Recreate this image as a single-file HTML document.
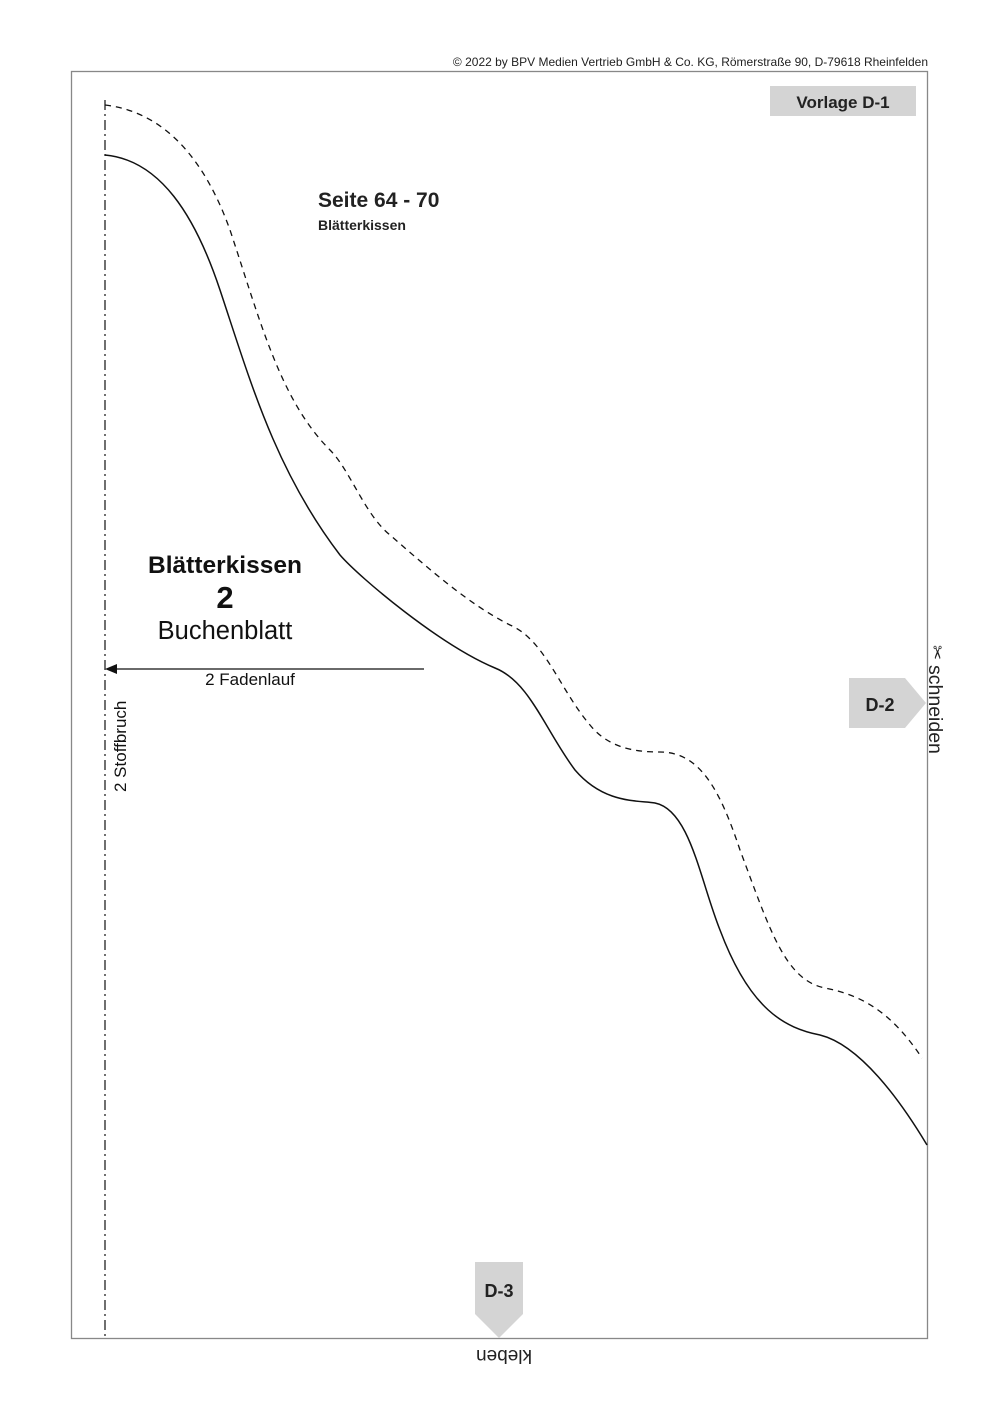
<!DOCTYPE html>
<html><head><meta charset="utf-8"><style>
body{margin:0;background:#fff;}
svg{display:block;font-family:"Liberation Sans",sans-serif;}
</style></head><body>
<svg width="999" height="1411" viewBox="0 0 999 1411" xmlns="http://www.w3.org/2000/svg">
<text x="928" y="66" font-size="12" text-anchor="end" fill="#222">© 2022 by BPV Medien Vertrieb GmbH &amp; Co. KG, Römerstraße 90, D-79618 Rheinfelden</text>
<rect x="71.5" y="71.5" width="856" height="1267" fill="none" stroke="#888" stroke-width="1.3"/>
<rect x="770" y="86" width="146" height="30" fill="#d4d4d4"/>
<text x="843" y="108" font-size="17" font-weight="bold" text-anchor="middle" fill="#222">Vorlage D-1</text>
<text x="318" y="207" font-size="21" font-weight="bold" fill="#222">Seite 64 - 70</text>
<text x="318" y="230" font-size="14" font-weight="bold" fill="#222">Blätterkissen</text>
<line x1="105" y1="100" x2="105" y2="1338" stroke="#222" stroke-width="1.3" stroke-dasharray="10,4,2,4"/>
<path d="M105,155 C160,160 195,215 220,290 C250,380 275,470 340,555 C360,578 440,645 495,668 C530,682 545,730 575,770 C605,805 640,800 655,803 C690,810 700,880 720,930 C750,1010 785,1028 820,1035 C860,1045 900,1100 927,1145" fill="none" stroke="#111" stroke-width="1.5"/>
<path d="M105,105 C165,112 205,160 230,230 C260,320 280,400 330,450 C350,470 365,515 390,535 C430,570 470,605 510,625 C545,640 560,690 590,725 C610,750 640,752 660,752 C700,752 720,790 740,850 C770,930 785,980 825,988 C860,995 890,1010 922,1058" fill="none" stroke="#111" stroke-width="1.3" stroke-dasharray="6,5"/>
<text x="225" y="573" font-size="24.5" font-weight="bold" text-anchor="middle" fill="#111">Blätterkissen</text>
<text x="225" y="608" font-size="31" font-weight="bold" text-anchor="middle" fill="#111">2</text>
<text x="225" y="639" font-size="25.5" text-anchor="middle" fill="#111">Buchenblatt</text>
<line x1="112" y1="669" x2="424" y2="669" stroke="#111" stroke-width="1.3"/>
<polygon points="105,669 117,664 117,674" fill="#111"/>
<text x="250" y="685" font-size="17" text-anchor="middle" fill="#111">2  Fadenlauf</text>
<text transform="translate(126,792) rotate(-90)" font-size="17" fill="#111">2  Stoffbruch</text>
<polygon points="849,678 905,678 926,703 905,728 849,728" fill="#d4d4d4"/>
<text x="880" y="711" font-size="18" font-weight="bold" text-anchor="middle" fill="#222">D-2</text>
<text x="931" y="645" font-size="18" fill="#222" transform="rotate(90 931 645)">✂</text>
<text transform="translate(929,665) rotate(90)" font-size="19.5" fill="#222">schneiden</text>
<polygon points="475,1262 523,1262 523,1314 499,1338 475,1314" fill="#d4d4d4"/>
<text x="499" y="1297" font-size="18" font-weight="bold" text-anchor="middle" fill="#222">D-3</text>
<text transform="translate(504,1350) rotate(180)" font-size="19" text-anchor="middle" fill="#222">kleben</text>
</svg>
</body></html>
